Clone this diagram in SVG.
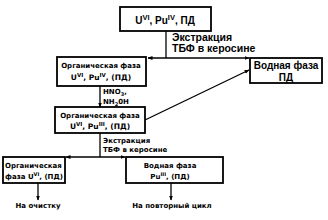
<svg xmlns="http://www.w3.org/2000/svg" width="328" height="220" viewBox="0 0 328 220">
<defs>
<marker id="ah" viewBox="0 0 10 10" refX="9" refY="5" markerWidth="5" markerHeight="5" orient="auto-start-reverse" markerUnits="userSpaceOnUse">
<path d="M0,1 L10,5 L0,9 Z" fill="#000"/>
</marker>
<style>
.box{fill:#fff;stroke:#000;stroke-width:1.8}
.ln{fill:none;stroke:#000;stroke-width:1.3}
text{font-family:"Liberation Sans",Arial,sans-serif;font-weight:bold;fill:#000}
.d{font-family:"DejaVu Sans",Verdana,sans-serif}
.c{text-anchor:middle}
</style>
</defs>
<rect width="328" height="220" fill="#fff"/>
<g id="connectors">
<line class="ln" x1="166" y1="31" x2="166" y2="58"/>
<line class="ln" x1="148" y1="58" x2="249" y2="58" marker-start="url(#ah)" marker-end="url(#ah)"/>
<line class="ln" x1="100" y1="86" x2="100" y2="107" marker-end="url(#ah)"/>
<line class="ln" x1="145" y1="120" x2="249" y2="70" marker-end="url(#ah)"/>
<line class="ln" x1="100" y1="133" x2="100" y2="157"/>
<line class="ln" x1="66" y1="157" x2="125" y2="157" marker-start="url(#ah)" marker-end="url(#ah)"/>
<line class="ln" x1="38" y1="183" x2="38" y2="200" marker-end="url(#ah)"/>
<line class="ln" x1="171" y1="183" x2="171" y2="200" marker-end="url(#ah)"/>
<text x="172" y="41" font-size="10.5">Экстракция</text>
<text x="172" y="52" font-size="10.5">ТБФ в керосине</text>
<text x="103" y="94" font-size="7" class="d">HNO<tspan font-size="5" dy="2">3</tspan><tspan dy="-2">,</tspan></text>
<text x="103" y="104" font-size="7" class="d">NH<tspan font-size="5" dy="2">2</tspan><tspan dy="-2">0H</tspan></text>
<text x="103" y="143" font-size="7" class="d">Экстракция</text>
<text x="103" y="152" font-size="7" class="d">ТБФ  в керосине</text>
<text x="38" y="208" font-size="7" class="c d">На очистку</text>
<text x="172" y="208" font-size="7" class="c d">На повторный цикл</text>
</g>
<g id="feed">
<rect class="box" x="120" y="7" width="91" height="24"/>
<text x="165" y="24" font-size="10" class="c">U<tspan font-size="7.5" dy="-4">VI</tspan><tspan dy="4">, Pu</tspan><tspan font-size="7.5" dy="-4">IV</tspan><tspan dy="4">, ПД</tspan></text>
</g>
<g id="org1">
<rect class="box" x="57" y="57" width="89" height="29"/>
<text x="101" y="68" font-size="7" class="c d">Органическая фаза</text>
<text x="101" y="80" font-size="7.5" class="c d">U<tspan font-size="5.5" dy="-3">VI</tspan><tspan dy="3">, Pu</tspan><tspan font-size="5.5" dy="-3">IV</tspan><tspan dy="3">, (ПД)</tspan></text>
</g>
<g id="aq1">
<rect class="box" x="250" y="58" width="72" height="25"/>
<text x="286" y="69" font-size="10" class="c">Водная фаза</text>
<text x="286" y="80.5" font-size="10" class="c">ПД</text>
</g>
<g id="org2">
<rect class="box" x="55" y="107" width="90" height="26"/>
<text x="100" y="118" font-size="7" class="c d">Органическая фаза</text>
<text x="100" y="129" font-size="7.5" class="c d">U<tspan font-size="5.5" dy="-3">VI</tspan><tspan dy="3">, Pu</tspan><tspan font-size="5.5" dy="-3">III</tspan><tspan dy="3">, (ПД)</tspan></text>
</g>
<g id="org3">
<rect class="box" x="3" y="157" width="62" height="26"/>
<text x="5" y="168" font-size="7" class="d">Органическая</text>
<text x="5" y="179" font-size="7" class="d">фаза U<tspan font-size="5" dy="-3">VI</tspan><tspan dy="3">, (ПД)</tspan></text>
</g>
<g id="aq2">
<rect class="box" x="126" y="157" width="97" height="26"/>
<text x="170" y="168" font-size="7" class="c d">Водная фаза</text>
<text x="170" y="179" font-size="7" class="c d">Pu<tspan font-size="5" dy="-3">III</tspan><tspan dy="3">, (ПД)</tspan></text>
</g>
</svg>
